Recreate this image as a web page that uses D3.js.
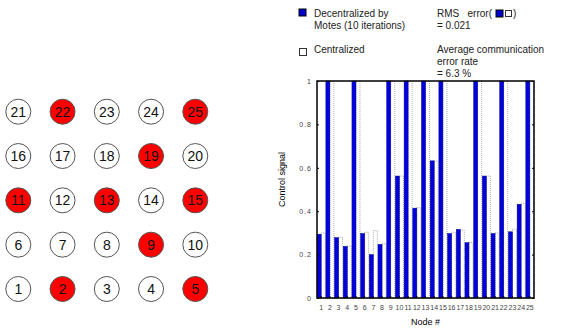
<!DOCTYPE html>
<html>
<head>
<meta charset="utf-8">
<script src="https://cdn.jsdelivr.net/npm/d3@7"></script>
<style>
  body { margin: 0; background: #fff; }
  svg { font-family: "Liberation Sans", Arial, sans-serif; }
</style>
</head>
<body>
<div id="chart"></div>
<script>
// node ids 1..25, and the two control signals
var nodes = d3.range(1, 26);
var decentralized = [0.294, 1, 0.278, 0.238, 1, 0.297, 0.200, 0.247, 1, 0.562,
                     1, 0.414, 1, 0.632, 1, 0.297, 0.316, 0.255, 1, 0.562,
                     0.297, 1, 0.305, 0.432, 1];
var centralized = [0.300, 1, 0.280, 0.240, 1, 0.303, 0.310, 0.250, 1, 0.562,
                   1, 0.416, 1, 0.632, 1, 0.303, 0.313, 0.255, 1, 0.562,
                   0.300, 1, 0.317, 0.437, 1];
var yTicks = [0, 0.2, 0.4, 0.6, 0.8, 1];
var gridCols = 5;

var width = 575, height = 335;
var svg = d3.select("#chart").append("svg")
    .attr("width", width)
    .attr("height", height);

// ---- node grid (left) ----
var gx = d3.scaleLinear().domain([0, 4]).range([18.3, 195.3]);
var gy = d3.scaleLinear().domain([0, 4]).range([289, 111.7]);

var cell = svg.append("g").selectAll("g")
    .data(nodes)
    .enter().append("g")
    .attr("transform", function(d) {
      var i = d - 1;
      return "translate(" + gx(i % gridCols) + "," + gy(Math.floor(i / gridCols)) + ")";
    });

// red = nodes driven at full signal
cell.append("circle")
    .attr("r", 12.5)
    .attr("fill", function(d) { return centralized[d - 1] >= 1 ? "#ff0000" : "#fff"; })
    .attr("stroke", "#555")
    .attr("stroke-width", 1);

cell.append("text")
    .attr("text-anchor", "middle")
    .attr("dy", "0.36em")
    .style("font-size", "14px")
    .attr("fill", "#111")
    .text(function(d) { return d; });

// ---- bar chart (right) ----
var margin = {left: 317, right: 41, top: 81, bottom: 37};
var pw = width - margin.left - margin.right,
    ph = height - margin.top - margin.bottom;

var x = d3.scaleBand().domain(nodes).range([0, pw]).paddingInner(0.08).paddingOuter(0.02);
var xs = d3.scaleBand().domain(["d", "c"]).range([0, x.bandwidth()]).padding(0);
var y = d3.scaleLinear().domain([0, 1]).range([ph, 0]);

var g = svg.append("g").attr("transform", "translate(" + margin.left + "," + margin.top + ")");

g.append("g").selectAll("rect")
    .data(nodes)
    .enter().append("rect")
    .attr("x", function(d) { return x(d) + xs("c"); })
    .attr("y", function(d) { return y(centralized[d - 1]); })
    .attr("width", xs.bandwidth())
    .attr("height", function(d) { return ph - y(centralized[d - 1]); })
    .attr("fill", "#fff")
    .attr("stroke", "#999")
    .attr("stroke-width", 0.8)
    .attr("stroke-dasharray", "1,1");

g.append("g").selectAll("rect")
    .data(nodes)
    .enter().append("rect")
    .attr("x", function(d) { return x(d) + xs("d"); })
    .attr("y", function(d) { return y(decentralized[d - 1]); })
    .attr("width", xs.bandwidth())
    .attr("height", function(d) { return ph - y(decentralized[d - 1]); })
    .attr("fill", "#0000dd")
    .attr("stroke", "#00008a")
    .attr("stroke-width", 0.5);

// axes
var yAxis = g.append("g")
    .call(d3.axisLeft(y).tickValues(yTicks).tickSize(-2).tickPadding(5)
      .tickFormat(function(d) { return d === 0 || d === 1 ? d : d3.format(".1f")(d); }));
yAxis.select(".domain").remove();
yAxis.selectAll("text").style("font-size", "7px").attr("fill", "#444").attr("letter-spacing", "1px");

var yAxisR = g.append("g").attr("transform", "translate(" + pw + ",0)")
    .call(d3.axisRight(y).tickValues(yTicks).tickSize(-2).tickFormat(""));
yAxisR.select(".domain").remove();

var xAxis = g.append("g").attr("transform", "translate(0," + ph + ")")
    .call(d3.axisBottom(x).tickSize(-2).tickPadding(7));
xAxis.select(".domain").remove();
xAxis.selectAll("text").style("font-size", "7px").attr("fill", "#444");

// frame
g.append("rect")
    .attr("width", pw).attr("height", ph)
    .attr("fill", "none")
    .attr("stroke", "#000")
    .attr("stroke-width", 1.5);

g.append("text")
    .attr("x", pw / 2).attr("y", ph + 27)
    .attr("text-anchor", "middle")
    .style("font-size", "9px")
    .text("Node #");

g.append("text")
    .attr("transform", "translate(-32," + (ph / 2 - 10) + ") rotate(-90)")
    .attr("text-anchor", "middle")
    .style("font-size", "9px")
    .text("Control signal");

// ---- legend ----
var lg = svg.append("g").style("font-size", "10px").attr("fill", "#222");
lg.append("rect").attr("x", 299).attr("y", 9).attr("width", 7).attr("height", 7)
    .attr("fill", "#0000cc").attr("stroke", "#000");
lg.append("text").attr("x", 314).attr("y", 17).text("Decentralized by");
lg.append("text").attr("x", 314).attr("y", 29).text("Motes (10 iterations)");
lg.append("rect").attr("x", 299.5).attr("y", 48.5).attr("width", 7).attr("height", 7)
    .attr("fill", "#fff").attr("stroke", "#333");
lg.append("text").attr("x", 314).attr("y", 53).text("Centralized");

lg.append("text").attr("x", 437).attr("y", 17).attr("xml:space", "preserve").text("RMS   error(");
lg.append("rect").attr("x", 496).attr("y", 10).attr("width", 7).attr("height", 7)
    .attr("fill", "#0000cc").attr("stroke", "#000");
lg.append("rect").attr("x", 505.5).attr("y", 10.5).attr("width", 6).attr("height", 6)
    .attr("fill", "#fff").attr("stroke", "#333");
lg.append("text").attr("x", 513).attr("y", 17).text(")");
lg.append("text").attr("x", 437).attr("y", 29).text("= 0.021");
lg.append("text").attr("x", 437).attr("y", 53).text("Average communication");
lg.append("text").attr("x", 437).attr("y", 65).text("error rate");
lg.append("text").attr("x", 437).attr("y", 77).text("= 6.3 %");
</script>
</body>
</html>
